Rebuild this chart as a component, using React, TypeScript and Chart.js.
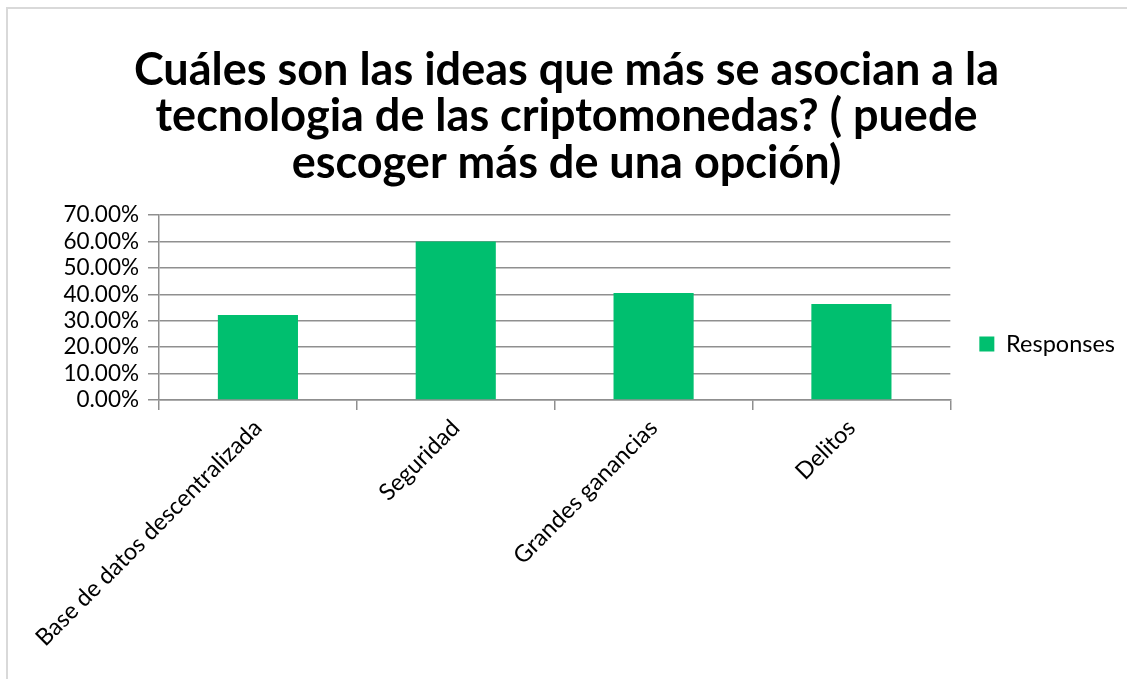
import React, { useEffect, useRef } from "react";
import { Chart, registerables } from "chart.js";

Chart.register(...registerables);

const categories = [
  "Base de datos descentralizada",
  "Seguridad",
  "Grandes ganancias",
  "Delitos",
];
const responses = [32.2, 60.0, 40.5, 36.3];
const seriesName = "Responses";
const titleLines = [
  "Cuáles son las ideas que más se asocian a la",
  "tecnologia de las criptomonedas? ( puede",
  "escoger más de una opción)",
];
const yMin = 0;
const yMax = 70;
const yStep = 10;

const GRID = "#8f8f8f";
const BAR = "#00BF6F";
const FONT = "Lato";

export default function App() {
  const ref = useRef<HTMLCanvasElement>(null);

  useEffect(() => {
    if (!ref.current) return;
    const chart = new Chart(ref.current, {
      type: "bar",
      data: {
        labels: categories,
        datasets: [
          {
            label: seriesName,
            data: responses,
            backgroundColor: BAR,
            borderWidth: 0,
            categoryPercentage: 1,
            barPercentage: 0.405,
          },
        ],
      },
      options: {
        animation: false,
        responsive: false,
        devicePixelRatio: 1,
        layout: { padding: { top: 0, left: 0, right: 7, bottom: 0 } },
        plugins: {
          title: {
            display: true,
            text: titleLines,
            color: "#000",
            font: { family: FONT, size: 45, weight: "bold", lineHeight: 46.5 / 45 },
            padding: { top: 38, bottom: 28.5 },
          },
          legend: {
            position: "right",
            labels: {
              boxWidth: 15,
              boxHeight: 15,
              padding: 29,
              color: "#000",
              font: { family: FONT, size: 23.5 },
            },
          },
          tooltip: { enabled: false },
        },
        scales: {
          x: {
            grid: {
              drawOnChartArea: false,
              drawTicks: true,
              tickLength: 10,
              color: GRID,
              lineWidth: 1.5,
              offset: true,
            },
            border: { display: true, color: GRID, width: 1.5 },
            ticks: {
              autoSkip: false,
              minRotation: 45,
              maxRotation: 45,
              padding: 4,
              color: "#000",
              font: { family: FONT, size: 23.5 },
            },
            afterFit: (s: any) => {
              s.height = 279;
            },
          },
          y: {
            min: yMin,
            max: yMax,
            ticks: {
              stepSize: yStep,
              autoSkip: false,
              callback: (v: any) => Number(v).toFixed(2) + "%",
              padding: 9,
              color: "#000",
              font: { family: FONT, size: 22.5 },
            },
            grid: {
              color: GRID,
              lineWidth: 1.5,
              drawTicks: true,
              tickLength: 11,
            },
            border: { display: true, color: GRID, width: 1.5 },
            afterFit: (s: any) => {
              s.width = 151;
            },
          },
        },
      },
    });
    return () => chart.destroy();
  }, []);

  return (
    <div style={{ position: "fixed", inset: 0, overflow: "hidden", background: "#fff" }}>
      <div
        style={{
          position: "absolute",
          left: 6,
          top: 7,
          width: 1124,
          height: 670,
          border: "2px solid #d9d9d9",
        }}
      >
        <canvas ref={ref} width={1124} height={670} style={{ display: "block" }} />
      </div>
    </div>
  );
}
